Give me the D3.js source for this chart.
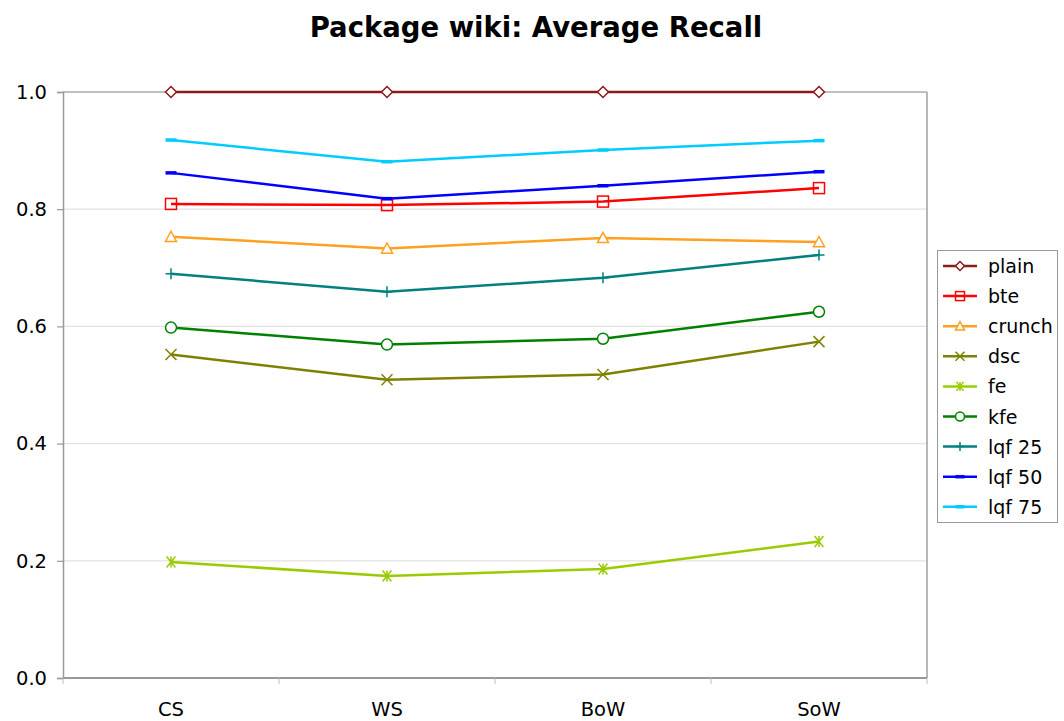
<!DOCTYPE html>
<html>
<head>
<meta charset="utf-8">
<script src="https://cdn.jsdelivr.net/npm/d3@7"></script>
<style>
  html, body { margin: 0; padding: 0; background: #fff; }
  svg { display: block; font-family: "DejaVu Sans", Verdana, sans-serif; }
</style>
</head>
<body>
<svg id="chart" width="1064" height="721"></svg>
<script>
// Approaches compared on the x axis
const categories = ["CS", "WS", "BoW", "SoW"];

// Average recall per method
const plain  = [1.000, 1.000, 1.000, 1.000];
const bte    = [0.809, 0.807, 0.813, 0.836];
const crunch = [0.753, 0.733, 0.751, 0.744];
const dsc    = [0.552, 0.509, 0.518, 0.574];
const fe     = [0.198, 0.174, 0.186, 0.233];
const kfe    = [0.598, 0.569, 0.579, 0.625];
const lqf25  = [0.690, 0.659, 0.683, 0.722];
const lqf50  = [0.862, 0.818, 0.840, 0.864];
const lqf75  = [0.918, 0.881, 0.901, 0.917];

const yTicks = [0.0, 0.2, 0.4, 0.6, 0.8, 1.0];

const series = [
  { name: "plain",  values: plain,  color: "#8b1a1a", marker: "diamond" },
  { name: "bte",    values: bte,    color: "#ff0000", marker: "square" },
  { name: "crunch", values: crunch, color: "#ffa020", marker: "triangle" },
  { name: "dsc",    values: dsc,    color: "#808000", marker: "x" },
  { name: "fe",     values: fe,     color: "#99cc00", marker: "star" },
  { name: "kfe",    values: kfe,    color: "#008000", marker: "circle" },
  { name: "lqf 25", values: lqf25,  color: "#008080", marker: "plus" },
  { name: "lqf 50", values: lqf50,  color: "#0000ff", marker: "dash" },
  { name: "lqf 75", values: lqf75,  color: "#00ccff", marker: "dash" }
];

const svg = d3.select("#chart");
const plot = { left: 63, right: 927, top: 92, bottom: 678 };

const x = d3.scaleBand().domain(categories).range([plot.left, plot.right]);
const y = d3.scaleLinear().domain([0, 1]).range([plot.bottom, plot.top]);
const cx = c => x(c) + x.bandwidth() / 2;

// Title
svg.append("text")
  .attr("x", 536).attr("y", 37)
  .attr("text-anchor", "middle")
  .attr("font-size", 27.5).attr("font-weight", "bold")
  .attr("fill", "#000")
  .text("Package wiki: Average Recall");

// Horizontal gridlines
svg.append("g").selectAll("line")
  .data(yTicks.filter(t => t > 0))
  .join("line")
  .attr("x1", plot.left).attr("x2", plot.right)
  .attr("y1", d => y(d)).attr("y2", d => y(d))
  .attr("stroke", d => d === 1 ? "#aaaaaa" : "#e2e2e2")
  .attr("stroke-width", d => d === 1 ? 1.5 : 1.2);

// Right border of the plot area
svg.append("line")
  .attr("x1", plot.right).attr("x2", plot.right)
  .attr("y1", plot.top).attr("y2", plot.bottom)
  .attr("stroke", "#a0a0a0").attr("stroke-width", 1.5);

// Y axis
const yAxis = svg.append("g")
  .attr("transform", `translate(${plot.left},0)`)
  .call(d3.axisLeft(y).tickValues(yTicks).tickFormat(d3.format(".1f")).tickSize(6).tickPadding(10));
yAxis.select(".domain").attr("stroke", "#999").attr("stroke-width", 1.5);
yAxis.selectAll(".tick line").attr("stroke", "#999").attr("stroke-width", 1.2);
yAxis.selectAll(".tick text").attr("font-size", 19.5).attr("fill", "#000")
  .attr("font-family", "DejaVu Sans, Verdana, sans-serif");

// X axis with ticks at band boundaries
const xAxisG = svg.append("g").attr("transform", `translate(0,${plot.bottom})`);
xAxisG.append("line")
  .attr("x1", plot.left).attr("x2", plot.right)
  .attr("stroke", "#999").attr("stroke-width", 1.8);
const bounds = categories.map(c => x(c)).concat([plot.right]);
xAxisG.selectAll("line.tk")
  .data(bounds).join("line").attr("class", "tk")
  .attr("x1", d => d).attr("x2", d => d)
  .attr("y1", 0).attr("y2", 6)
  .attr("stroke", "#bbb").attr("stroke-width", 1);
xAxisG.selectAll("text")
  .data(categories).join("text")
  .attr("x", d => cx(d)).attr("y", 38)
  .attr("text-anchor", "middle")
  .attr("font-size", 19.5).attr("fill", "#000")
  .text(d => d);

// Marker drawing
function drawMarker(g, type, color, size) {
  const s = size;
  switch (type) {
    case "diamond":
      g.append("path").attr("d", `M0,${-s}L${s},0L0,${s}L${-s},0Z`)
        .attr("fill", "#fff").attr("stroke", color).attr("stroke-width", 1.5);
      break;
    case "square":
      g.append("rect").attr("x", -s).attr("y", -s).attr("width", 2 * s).attr("height", 2 * s)
        .attr("fill", "none").attr("stroke", color).attr("stroke-width", 1.5);
      break;
    case "triangle":
      g.append("path").attr("d", `M0,${-s}L${s},${s * 0.85}L${-s},${s * 0.85}Z`)
        .attr("fill", "#fff").attr("stroke", color).attr("stroke-width", 1.5);
      break;
    case "x":
      g.append("path").attr("d", `M${-s},${-s}L${s},${s}M${-s},${s}L${s},${-s}`)
        .attr("stroke", color).attr("stroke-width", 1.5);
      break;
    case "star":
      g.append("path").attr("d", `M${-s * 0.8},${-s}L${s * 0.8},${s}M${-s * 0.8},${s}L${s * 0.8},${-s}M0,${-s}L0,${s}`)
        .attr("stroke", color).attr("stroke-width", 1.5);
      break;
    case "circle":
      g.append("circle").attr("r", s)
        .attr("fill", "#fff").attr("stroke", color).attr("stroke-width", 1.5);
      break;
    case "plus":
      g.append("path").attr("d", `M${-s},0L${s},0M0,${-s}L0,${s}`)
        .attr("stroke", color).attr("stroke-width", 1.5);
      break;
    case "dash":
      g.append("path").attr("d", `M${-s},0L${s},0`)
        .attr("stroke", color).attr("stroke-width", 3.5);
      break;
  }
}

// Series lines and markers
const line = d3.line().x((d, i) => cx(categories[i])).y(d => y(d));
const gSeries = svg.append("g");
series.forEach(s => {
  gSeries.append("path")
    .datum(s.values)
    .attr("d", line)
    .attr("fill", "none")
    .attr("stroke", s.color)
    .attr("stroke-width", 2.5)
    .attr("stroke-linejoin", "round");
});
series.forEach(s => {
  s.values.forEach((v, i) => {
    const g = gSeries.append("g").attr("transform", `translate(${cx(categories[i])},${y(v)})`);
    drawMarker(g, s.marker, s.color, 5.5);
  });
});

// Legend
const legend = svg.append("g");
legend.append("rect")
  .attr("x", 937.5).attr("y", 250.5).attr("width", 120).attr("height", 272)
  .attr("fill", "#fff").attr("stroke", "#999").attr("stroke-width", 1);
const ly0 = 266, lStep = 30.1;
series.forEach((s, i) => {
  const yy = ly0 + i * lStep;
  legend.append("line")
    .attr("x1", 943).attr("x2", 977).attr("y1", yy).attr("y2", yy)
    .attr("stroke", s.color).attr("stroke-width", 2.5);
  const g = legend.append("g").attr("transform", `translate(960,${yy})`);
  drawMarker(g, s.marker, s.color, 4.5);
  legend.append("text")
    .attr("x", 988).attr("y", yy + 7)
    .attr("font-size", 19).attr("fill", "#000")
    .text(s.name);
});
</script>
</body>
</html>
